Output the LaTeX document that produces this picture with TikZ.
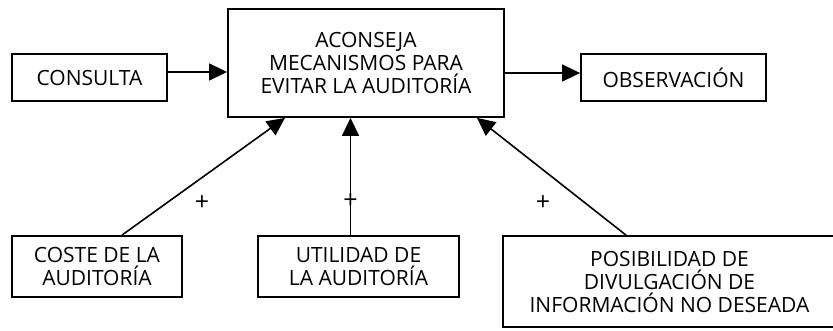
\documentclass[tikz,border=0pt]{standalone}
\usepackage{fontspec}
\setmainfont{Open Sans}
\usetikzlibrary{arrows.meta}
\begin{document}
\begin{tikzpicture}[x=1pt, y=-1pt,
					caja/.style = {draw, line width=1.8pt, align=center, inner sep=0pt,
						font=\fontsize{21}{23}\selectfont},
					flecha/.style = {line width=1.6pt, -{Triangle[length=18pt,width=17pt]}},
					signo/.style = {font=\fontsize{25}{25}\selectfont, inner sep=0pt}
				]
				\useasboundingbox (0,0) rectangle (833,331);
				\node[caja, minimum width=276pt, minimum height=108pt] (main) at (366,63)
					{ACONSEJA\\MECANISMOS PARA\\EVITAR LA AUDITORÍA};
				\node[caja, minimum width=155pt, minimum height=47pt] (consulta) at (89.5,77.5) {CONSULTA};
				\node[caja, minimum width=185pt, minimum height=47pt] (obs) at (673.5,77.5) {OBSERVACIÓN};
				\node[caja, minimum width=170pt, minimum height=61pt] (coste) at (97,266.5) {COSTE DE LA\\AUDITORÍA};
				\node[caja, minimum width=201pt, minimum height=61pt] (util) at (358.5,266.5) {UTILIDAD DE\\LA AUDITORÍA};
				\node[caja, minimum width=333pt, minimum height=91pt] (posib) at (669.5,281.5)
					{POSIBILIDAD DE\\DIVULGACIÓN DE\\INFORMACIÓN NO DESEADA};
				\draw[flecha] ([yshift=5.5pt]consulta.east) -- ([yshift=5.5pt]consulta.east -| main.west);
				\draw[flecha] ([yshift=4.5pt]obs.west -| main.east) -- ([yshift=4.5pt]obs.west);
				\draw[flecha] ([xshift=25pt]coste.north) -- ([xshift=-81pt]main.south);
				\draw[flecha] ([xshift=-8pt]util.north) -- ([xshift=-15.5pt]main.south);
				\draw[flecha] ([xshift=-43.5pt]posib.north) -- ([xshift=111pt]main.south);
				\node[signo] (mas1) at (202,203) {+};
				\node[signo] (mas2) at (350.5,201) {+};
				\node[signo] (mas3) at (543,203) {+};
			\end{tikzpicture}
\end{document}
